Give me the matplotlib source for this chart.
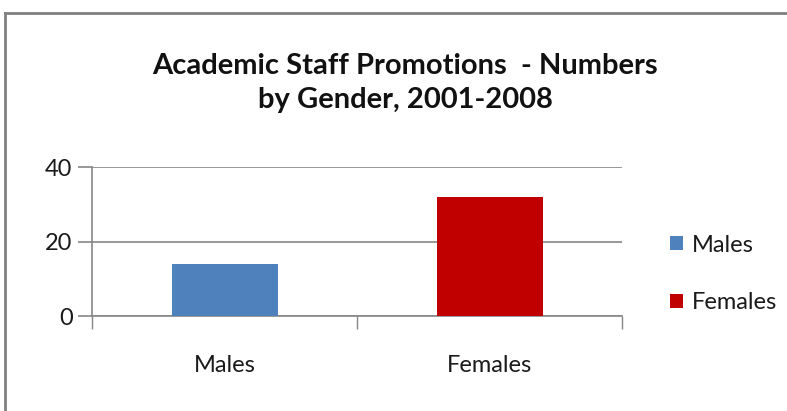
import matplotlib.pyplot as plt
from matplotlib.lines import Line2D

categories = ["Males", "Females"]
values = [14, 32]
colors = ["#4F81BD", "#C00000"]
yticks = [0, 20, 40]
title = "Academic Staff Promotions  - Numbers\nby Gender, 2001-2008"

plt.rcParams["font.family"] = ["Lato", "DejaVu Sans"]

fig = plt.figure(figsize=(7.87, 4.11), dpi=100)
ax = fig.add_axes([92 / 787, 95 / 411, 530 / 787, 149 / 411])

bars = ax.bar(categories, values, width=0.4, color=colors, label=categories, zorder=3)
ax.set_xlim(-0.5, 1.5)
ax.set_ylim(0, 40)
ax.set_yticks(yticks)
ax.yaxis.grid(True, color="#868686", linewidth=1.2, zorder=0)
ax.set_xticks([-0.5, 0.5, 1.5], minor=True)
ax.tick_params(axis="x", which="major", length=0, pad=28, labelsize=17, labelcolor="#1a1a1a")
ax.tick_params(axis="x", which="minor", length=9, color="#868686", width=1)
ax.tick_params(axis="y", length=10, color="#868686", width=1.2, pad=4, labelsize=17, labelcolor="#1a1a1a")
for s in ["top", "right"]:
    ax.spines[s].set_visible(False)
for s in ["left", "bottom"]:
    ax.spines[s].set_color("#868686")
    ax.spines[s].set_linewidth(1.2)

fig.text(405 / 787, 1 - 83 / 411, title, ha="center", va="center",
         fontsize=21, fontweight="bold", linespacing=1.35, color="#111111")

fig.legend(bars, categories, loc="center left", bbox_to_anchor=(649 / 787, 1 - 274 / 411),
           frameon=False, fontsize=17, handlelength=0.55, handleheight=0.55,
           handletextpad=0.35, labelspacing=1.55, labelcolor="#1a1a1a")

# chart frame (top and left edge only visible)
fig.add_artist(Line2D([5 / 787, 1], [1 - 13 / 411, 1 - 13 / 411], transform=fig.transFigure,
                      color="#808080", linewidth=2))
fig.add_artist(Line2D([5 / 787, 5 / 787], [0, 1 - 13 / 411], transform=fig.transFigure,
                      color="#808080", linewidth=2))

fig.savefig("out.png", dpi=100)
